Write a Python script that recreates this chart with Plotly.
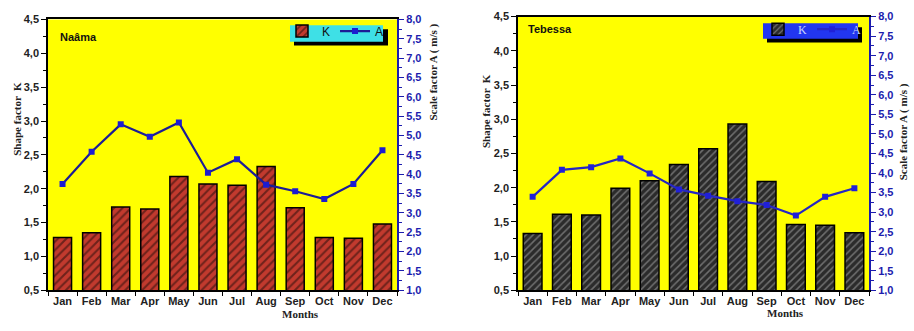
import plotly.graph_objects as go

W, H = 914, 331

months = ["Jan", "Feb", "Mar", "Apr", "May", "Jun", "Jul", "Aug", "Sep", "Oct", "Nov", "Dec"]

# Naâma station
naama_k = [1.28, 1.35, 1.73, 1.70, 2.18, 2.07, 2.05, 2.33, 1.72, 1.28, 1.27, 1.48]
naama_a = [3.75, 4.58, 5.29, 4.97, 5.34, 4.04, 4.39, 3.73, 3.56, 3.36, 3.75, 4.62]

# Tebessa station
tebessa_k = [1.33, 1.61, 1.60, 1.99, 2.10, 2.34, 2.57, 2.93, 2.09, 1.46, 1.45, 1.34]
tebessa_a = [3.39, 4.08, 4.15, 4.37, 3.99, 3.58, 3.42, 3.28, 3.18, 2.91, 3.39, 3.61]

k_ticks = [0.5, 1.0, 1.5, 2.0, 2.5, 3.0, 3.5, 4.0, 4.5]
a_ticks = [1.0, 1.5, 2.0, 2.5, 3.0, 3.5, 4.0, 4.5, 5.0, 5.5, 6.0, 6.5, 7.0, 7.5, 8.0]


def px(x):
    return x / W


def py(y):
    return 1 - y / H


BLUE_TICK = "#1c1cae"
SANS = "Liberation Sans, Arial, sans-serif"
SERIF = "Liberation Serif, Times New Roman, serif"

fig = go.Figure()

# ---- Naâma panel
fig.add_trace(go.Bar(
    x=months, y=naama_k, name="K", xaxis="x", yaxis="y", width=0.62,
    marker=dict(color="#c23a2e", line=dict(color="black", width=1.5),
                pattern=dict(shape="/", bgcolor="#c23a2e", fgcolor="#1a0a08",
                             size=6, solidity=0.35)),
    legend="legend",
))
fig.add_trace(go.Scatter(
    x=months, y=naama_a, name="A", xaxis="x", yaxis="y2", mode="lines+markers",
    line=dict(color="#1c1c96", width=2.2),
    marker=dict(symbol="square", size=6, color="#1c1cd0"),
    legend="legend",
))

# ---- Tebessa panel
fig.add_trace(go.Bar(
    x=months, y=tebessa_k, name="K", xaxis="x2", yaxis="y3", width=0.64,
    marker=dict(color="#2b2b2b", line=dict(color="black", width=1.5),
                pattern=dict(shape="/", bgcolor="#2b2b2b", fgcolor="#b4b4b4",
                             size=5, solidity=0.3)),
    legend="legend2",
))
fig.add_trace(go.Scatter(
    x=months, y=tebessa_a, name="A", xaxis="x2", yaxis="y4", mode="lines+markers",
    line=dict(color="#2626c4", width=2.2),
    marker=dict(symbol="square", size=6, color="#2020d8"),
    legend="legend2",
))

tickfont_k = dict(family=SANS, size=11, color="#222222", weight="bold")
tickfont_a = dict(family=SANS, size=11, color=BLUE_TICK, weight="bold")
tickfont_x = dict(family=SANS, size=11, color="#222222", weight="bold")


def xaxis(domain, anchor):
    return dict(
        domain=domain, anchor=anchor, range=[-0.5, 11.5], type="category",
        showline=True, linecolor="black", linewidth=1.5, mirror=True,
        ticks="outside", tickson="boundaries", ticklen=4, tickcolor="black",
        tickangle=0, tickfont=tickfont_x, showgrid=False, zeroline=False,
    )


def kaxis(domain, anchor):
    return dict(
        domain=domain, anchor=anchor, range=[0.5, 4.5], tickvals=k_ticks,
        tickformat=".1f", ticks="outside", ticklen=5, tickcolor="black",
        minor=dict(dtick=0.25, ticks="outside", ticklen=3, tickcolor="black", showgrid=False),
        showline=True, linecolor="black", linewidth=1.5, tickfont=tickfont_k,
        showgrid=False, zeroline=False,
    )


def aaxis(overlay, anchor):
    return dict(
        overlaying=overlay, anchor=anchor, side="right", range=[1.0, 8.0],
        tickvals=a_ticks, tickformat=".1f", ticks="outside", ticklen=5,
        tickcolor=BLUE_TICK,
        minor=dict(dtick=0.25, ticks="outside", ticklen=3, tickcolor=BLUE_TICK, showgrid=False),
        showline=True, linecolor=BLUE_TICK, linewidth=2, tickfont=tickfont_a,
        showgrid=False, zeroline=False,
    )


# legend boxes with drop shadows
shapes = [
    dict(type="rect", xref="paper", yref="paper", x0=px(294), x1=px(388), y0=py(41), y1=py(24),
         fillcolor="black", line=dict(width=0), layer="above"),
    dict(type="rect", xref="paper", yref="paper", x0=px(290), x1=px(383), y0=py(37), y1=py(20),
         fillcolor="#3ee0e6", line=dict(width=0), layer="above"),
    dict(type="rect", xref="paper", yref="paper", x0=px(767), x1=px(862), y0=py(38), y1=py(22),
         fillcolor="black", line=dict(width=0), layer="above"),
    dict(type="rect", xref="paper", yref="paper", x0=px(763), x1=px(858), y0=py(34), y1=py(18),
         fillcolor="#2236f0", line=dict(width=0), layer="above"),
]

title_font = dict(family=SERIF, size=11, color="#222222", weight="bold")
annotations = [
    dict(text="Naâma", x=px(58), y=py(32), xanchor="left", yanchor="middle",
         font=dict(family=SANS, size=11, color="#111111", weight="bold")),
    dict(text="Tebessa", x=px(526), y=py(24), xanchor="left", yanchor="middle",
         font=dict(family=SANS, size=11, color="#111111", weight="bold")),
    dict(text="Shape factor  K", x=px(17), y=py(117), textangle=-90,
         xanchor="center", yanchor="middle", font=title_font),
    dict(text="Shape factor  K", x=px(486), y=py(109), textangle=-90,
         xanchor="center", yanchor="middle", font=title_font),
    dict(text="Scale factor A ( m/s )", x=px(433), y=py(69), textangle=-90,
         xanchor="center", yanchor="middle", font=title_font),
    dict(text="Scale factor A ( m/s )", x=px(903), y=py(131), textangle=-90,
         xanchor="center", yanchor="middle", font=title_font),
    dict(text="Months", x=px(300), y=py(320), xanchor="center", yanchor="middle",
         font=title_font),
    dict(text="Months", x=px(785), y=py(319), xanchor="center", yanchor="middle",
         font=title_font),
]
for a in annotations:
    a.update(xref="paper", yref="paper", showarrow=False)

fig.update_layout(
    width=W, height=H, margin=dict(l=0, r=0, t=0, b=0),
    paper_bgcolor="white", plot_bgcolor="#ffff00",
    separators=", ", bargap=0.3, showlegend=True,
    xaxis=xaxis([px(48), px(397)], "y"),
    yaxis=kaxis([py(295), py(14)], "x"),
    yaxis2=aaxis("y", "x"),
    xaxis2=xaxis([px(518), px(869)], "y3"),
    yaxis3=kaxis([py(295), py(11)], "x2"),
    yaxis4=aaxis("y3", "x2"),
    legend=dict(x=px(282), y=py(11), xanchor="left", yanchor="top", orientation="h",
                bgcolor="rgba(0,0,0,0)", itemwidth=30, tracegroupgap=0,
                font=dict(family=SANS, size=12, color="#111111"),
                traceorder="normal"),
    legend2=dict(x=px(758), y=py(9), xanchor="left", yanchor="top", orientation="h",
                 bgcolor="rgba(0,0,0,0)", itemwidth=30, tracegroupgap=0,
                 font=dict(family=SERIF, size=12, color="#c8d4ff"),
                 traceorder="normal"),
    shapes=shapes, annotations=annotations,
)

fig.write_html("out.html")
